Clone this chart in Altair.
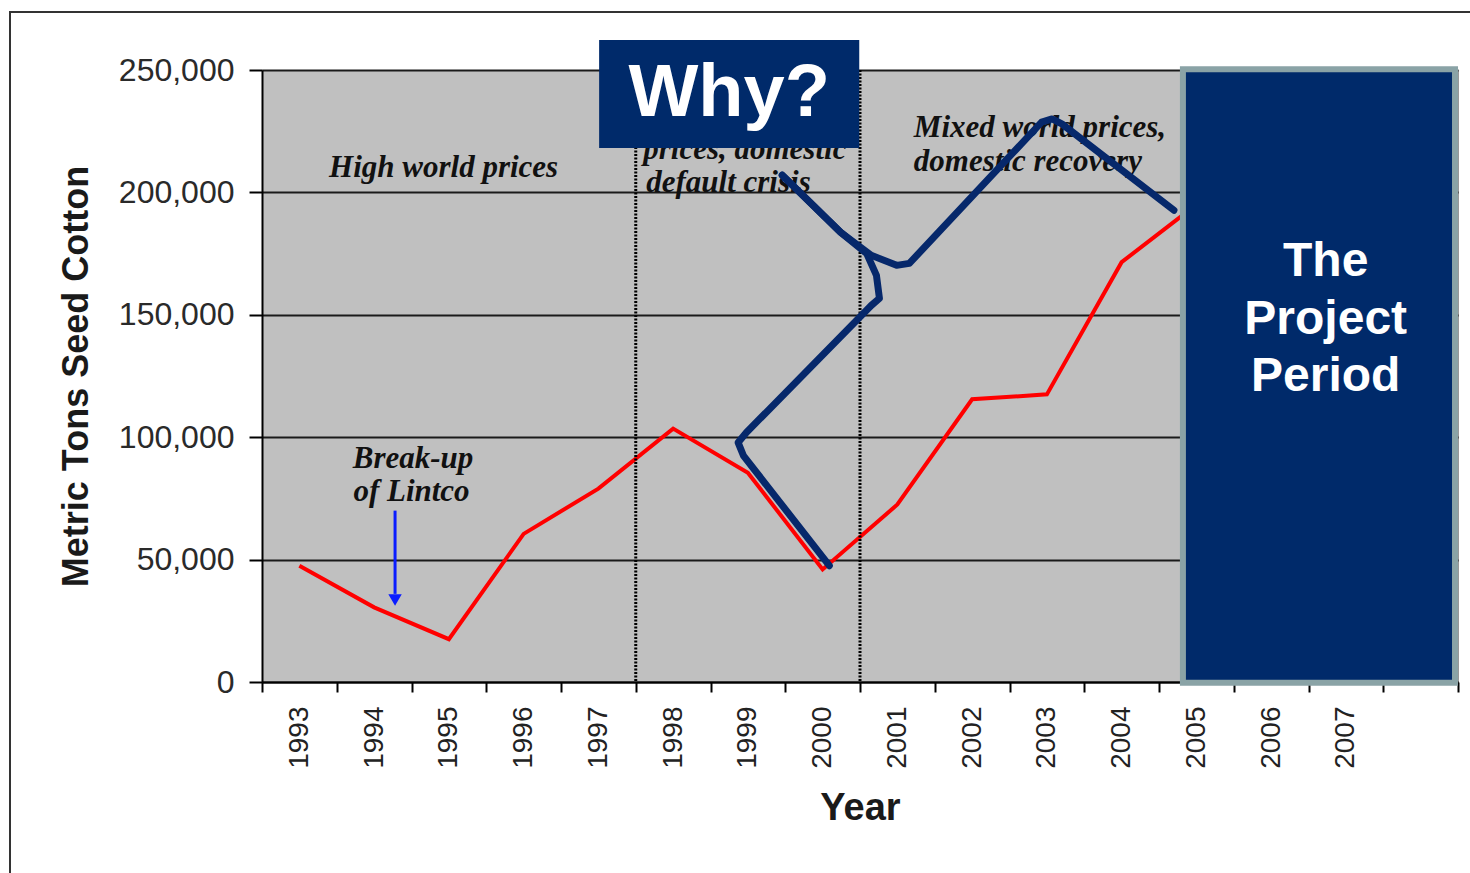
import altair as alt
import pandas as pd

# ---- data ----
years = [1993, 1994, 1995, 1996, 1997, 1998, 1999, 2000, 2001, 2002, 2003, 2004, 2005]
seed_cotton = [47500, 30500, 17500, 60500, 79000, 103500, 85500, 46000, 72500, 115500, 117500, 171500, 195000]

tick_values = [1992.5 + 0.5 * i for i in range(33)]
y_ticks = [0, 50000, 100000, 150000, 200000, 250000]

period_breaks = [1997.5, 2000.5]

note_text = ["High world prices", "prices, domestic", "default crisis",
             "Mixed world prices,", "domestic recovery", "Break-up", "of Lintco"]
note_x = [1994.93, 1997.60, 1997.64, 2001.22, 2001.22, 1994.52, 1994.50]
note_y = [209900, 217300, 203800, 226300, 212400, 91200, 77700]
note_align = ["center", "left", "left", "left", "left", "center", "center"]

# hand-drawn squiggle (two strokes)
sq_stroke = [0] * 11 + [1] * 9
sq_x = [2000.09, 1999.18, 1998.94, 1998.87, 1998.98, 2000.65, 2000.76, 2000.72, 2000.59, 2000.24, 1999.46,
        1999.46, 2000.24, 2000.65, 2000.99, 2001.16, 2002.93, 2003.07, 2003.20, 2004.70]
sq_y = [47500, 83100, 92500, 97800, 101900, 153800, 156700, 166100, 175000, 183700, 207000,
        207000, 183700, 174300, 170200, 171000, 228700, 230000, 228000, 192700]

arrow_x = [1994.28]
arrow_top = [70000]
arrow_bottom = [36000]
arrow_head = [33500]

why_box = {"x": [1997.01], "x2": [2000.49], "y": [262300], "y2": [218100]}
why_text = ["Why?"]
why_pos = {"x": [1998.75], "y": [240000]}

proj_box = {"x": [2004.82], "x2": [2008.46], "y": [250300], "y2": [-300]}
proj_text = ["The", "Project", "Period"]
proj_x = [2006.73, 2006.73, 2006.73]
proj_y = [171400, 147700, 124400]

# ---- frames ----
df_line = pd.DataFrame({"year": years, "tons": seed_cotton})
df_breaks = pd.DataFrame({"x": period_breaks})
df_notes = pd.DataFrame({"t": note_text, "x": note_x, "y": note_y, "a": note_align})
df_sq = pd.DataFrame({"s": sq_stroke, "i": list(range(len(sq_x))), "x": sq_x, "y": sq_y})
df_arrow = pd.DataFrame({"x": arrow_x, "y": arrow_top, "y2": arrow_bottom, "h": arrow_head})
df_why = pd.DataFrame(why_box)
df_why_t = pd.DataFrame({"t": why_text, **why_pos})
df_proj = pd.DataFrame(proj_box)
df_proj_t = pd.DataFrame({"t": proj_text, "x": proj_x, "y": proj_y})
df_one = pd.DataFrame({"k": [0]})

xs = alt.Scale(domain=[1992.5, 2008.5], nice=False, zero=False)
ys = alt.Scale(domain=[0, 250000], nice=False, zero=False)

SANS = "Liberation Sans"
SERIF = "Liberation Serif"
NAVY = "#002a6a"

x_axis = alt.Axis(
    values=tick_values,
    labelExpr="(datum.value % 1 === 0 && datum.value <= 2007) ? format(datum.value, 'd') : ''",
    labelAngle=270, labelFontSize=28, labelFont=SANS, labelColor="#222",
    labelPadding=14, labelOverlap=False, labelFlush=False,
    tickSize=10, tickWidth=2, tickColor="black",
    tickOpacity={"condition": {"test": "datum.value % 1 === 0", "value": 0}, "value": 1},
    domainColor="black", domainWidth=2, grid=False,
    title="Year", titleFont=SANS, titleFontSize=38, titleFontWeight="bold",
    titleColor="#1a1a1a", titlePadding=21,
)
y_axis = alt.Axis(
    values=y_ticks, labelExpr="format(datum.value, ',')",
    labelFontSize=32, labelFont=SANS, labelColor="#2a2a2a",
    labelPadding=15, tickSize=13, tickWidth=2, tickColor="black",
    domainColor="black", domainWidth=2,
    grid=True, gridColor="#1a1a1a", gridWidth=2,
    title="Metric Tons Seed Cotton", titleFont=SANS, titleFontSize=36,
    titleFontWeight="bold", titleColor="#1a1a1a", titlePadding=23,
)


def X(field):
    return alt.X(field, scale=xs, axis=x_axis)


def Y(field):
    return alt.Y(field, scale=ys, axis=y_axis)


line = alt.Chart(df_line).mark_line(color="#ff0000", strokeWidth=4).encode(
    x=X("year:Q"), y=Y("tons:Q"),
)

breaks = alt.Chart(df_breaks).mark_rule(color="black", strokeWidth=3, strokeDash=[2, 1.5]).encode(
    x=X("x:Q"),
)


def note_layer(align):
    return alt.Chart(df_notes).transform_filter(
        alt.datum.a == align
    ).mark_text(
        font=SERIF, fontSize=31, fontStyle="italic", fontWeight="bold", color="#111",
        baseline="middle", align=align,
    ).encode(x=X("x:Q"), y=Y("y:Q"), text="t:N")


notes_c = note_layer("center")
notes_l = note_layer("left")

arrow_shaft = alt.Chart(df_arrow).mark_rule(color="#0a1cff", strokeWidth=3).encode(
    x=X("x:Q"), y=Y("y:Q"), y2="y2:Q",
)
arrow_tip = alt.Chart(df_arrow).mark_point(
    shape="triangle-down", filled=True, color="#0a1cff", size=180, opacity=1,
).encode(x=X("x:Q"), y=Y("h:Q"))

squiggle = alt.Chart(df_sq).mark_line(
    color="#06286b", strokeWidth=7, strokeCap="round", strokeJoin="round",
).encode(x=X("x:Q"), y=Y("y:Q"), detail="s:N", order="i:Q")

why_rect = alt.Chart(df_why).mark_rect(color=NAVY).encode(
    x=X("x:Q"), x2="x2:Q", y=Y("y:Q"), y2="y2:Q",
)
why_label = alt.Chart(df_why_t).mark_text(
    font=SANS, fontSize=74, fontWeight="bold", color="white", baseline="middle", align="center",
).encode(x=X("x:Q"), y=Y("y:Q"), text="t:N")

proj_rect = alt.Chart(df_proj).mark_rect(fill=NAVY, stroke="#8aa3a6", strokeWidth=6).encode(
    x=X("x:Q"), x2="x2:Q", y=Y("y:Q"), y2="y2:Q",
)
proj_label = alt.Chart(df_proj_t).mark_text(
    font=SANS, fontSize=48, fontWeight="bold", color="white", baseline="middle", align="center",
).encode(x=X("x:Q"), y=Y("y:Q"), text="t:N")

frame = alt.Chart(df_one).mark_rect(fill=None, stroke="#333", strokeWidth=2, clip=False).encode(
    x=alt.value(-252), x2=alt.value(1230), y=alt.value(-58), y2=alt.value(830),
)

chart = alt.layer(
    line, breaks, notes_c, notes_l, arrow_shaft, arrow_tip, squiggle,
    why_rect, why_label, proj_rect, proj_label, frame,
).properties(
    width=1196, height=612,
    autosize=alt.AutoSizeParams(type="none"),
    padding={"left": 262, "top": 70, "right": 12, "bottom": 191},
    background="white",
).configure_view(
    fill="#c0c0c0", stroke="#9a9a9a", strokeWidth=1,
).configure_axis(
    labelOverlap=False, labelFlush=False,
)

chart.save("out.html", embed_options={"renderer": "svg", "actions": False})
